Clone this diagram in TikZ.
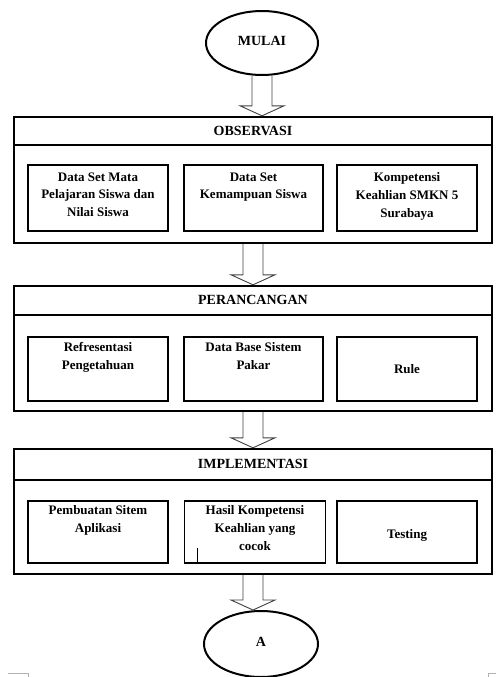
\documentclass[tikz,border=0pt]{standalone}
\usepackage{fontspec}
\setmainfont{Liberation Serif}
\usetikzlibrary{shapes.geometric,calc}
\tikzset{
  outerbox/.style={draw, line width=2.4pt, minimum width=478pt, inner sep=0pt},
  headline/.style={line width=2.2pt},
  innerbox/.style={draw, line width=1.3pt, inner sep=0pt},
  txt/.style={align=center, inner sep=0pt, font=\bfseries\fontsize{13}{17.8}\selectfont},
  headtxt/.style={inner sep=0pt, font=\bfseries\fontsize{14}{16}\selectfont},
  oval/.style={draw, ellipse, line width=2pt, inner sep=0pt, font=\bfseries\fontsize{14}{16}\selectfont},
  arrowline/.style={draw, line width=0.9pt, black!75, line join=miter}
}
\newcommand{\blkarrow}[2]{%
  \draw[arrowline] let \p1=(#1.south), \p2=(#2.north) in
    (\x1-10pt,\y1) -- (\x1-10pt,\y2+10pt) -- (\x1-22pt,\y2+10pt) -- (\x1,\y2)
    -- (\x1+22pt,\y2+10pt) -- (\x1+10pt,\y2+10pt) -- (\x1+10pt,\y1);}
\begin{document}
\begin{tikzpicture}[x=1pt,y=-1pt]
\useasboundingbox (0,0) rectangle (496,677);
% start
\node[oval, minimum width=112pt, minimum height=64pt] (mulai) at (262,43) {\raisebox{5pt}{MULAI}};
% OBSERVASI
\node[outerbox, minimum height=126pt] (obs) at (253,180) {};
\draw[headline] ([yshift=-29pt]obs.north west) -- ([yshift=-29pt]obs.north east);
\node[headtxt] (obsh) at ([yshift=-15pt]obs.north) {OBSERVASI};
\node[innerbox, minimum width=140pt, minimum height=66pt] (o1) at (98,198) {};
\node[innerbox, minimum width=139pt, minimum height=66pt] (o2) at (253.5,198) {};
\node[innerbox, minimum width=140pt, minimum height=66pt] (o3) at (407,198) {};
\node[txt, anchor=north] (o1t) at ([yshift=-8pt]o1.north) {Data Set Mata\\Pelajaran Siswa dan\\Nilai Siswa};
\node[txt, anchor=north] (o2t) at ([yshift=-8pt]o2.north) {Data Set\\Kemampuan Siswa};
\node[txt, anchor=north] (o3t) at ([yshift=-8pt]o3.north) {Kompetensi\\Keahlian SMKN 5\\Surabaya};
% PERANCANGAN
\node[outerbox, minimum height=125pt] (per) at (253,348.5) {};
\draw[headline] ([yshift=-30pt]per.north west) -- ([yshift=-30pt]per.north east);
\node[headtxt] (perh) at ([yshift=-15.5pt]per.north) {PERANCANGAN};
\node[innerbox, minimum width=140pt, minimum height=64pt] (p1) at (98,369) {};
\node[innerbox, minimum width=139pt, minimum height=64pt] (p2) at (253.5,369) {};
\node[innerbox, minimum width=140pt, minimum height=64pt] (p3) at (407,369) {};
\node[txt, anchor=north] (p1t) at ([yshift=-6pt]p1.north) {Refresentasi\\Pengetahuan};
\node[txt, anchor=north] (p2t) at ([yshift=-6pt]p2.north) {Data Base Sistem\\Pakar};
\node[txt] (p3t) at (p3.center) {Rule};
% IMPLEMENTASI
\node[outerbox, minimum height=125pt] (imp) at (253,511.5) {};
\draw[headline] ([yshift=-32pt]imp.north west) -- ([yshift=-32pt]imp.north east);
\node[headtxt] (imph) at ([yshift=-16pt]imp.north) {IMPLEMENTASI};
\node[innerbox, minimum width=140pt, minimum height=62pt] (i1) at (98,532) {};
\node[innerbox, minimum width=141pt, minimum height=62pt] (i2) at (255,532) {};
\node[innerbox, minimum width=140pt, minimum height=62pt] (i3) at (407,532) {};
\node[txt, anchor=north] (i1t) at ([yshift=-5pt]i1.north) {Pembuatan Sitem\\Aplikasi};
\node[txt, anchor=north] (i2t) at ([yshift=-5pt]i2.north) {Hasil Kompetensi\\Keahlian yang\\cocok};
\node[txt] (i3t) at ([yshift=-3pt]i3.center) {Testing};
\coordinate (cur) at (197,548);
\draw[line width=0.9pt] (cur) -- (cur |- i2.south);
% end
\node[oval, minimum width=114pt, minimum height=66pt] (A) at (261,644) {\raisebox{5pt}{A}};
% block arrows
\blkarrow{mulai}{obs}
\blkarrow{obs}{per}
\blkarrow{per}{imp}
\blkarrow{imp}{A}
% page corner marks
\draw[gray!60, line width=0.8pt] (8,673.5) -- (28,673.5) -- (28,677);
\draw[gray!60, line width=0.8pt] (496,673.5) -- (488.5,673.5) -- (488.5,677);
\end{tikzpicture}
\end{document}
